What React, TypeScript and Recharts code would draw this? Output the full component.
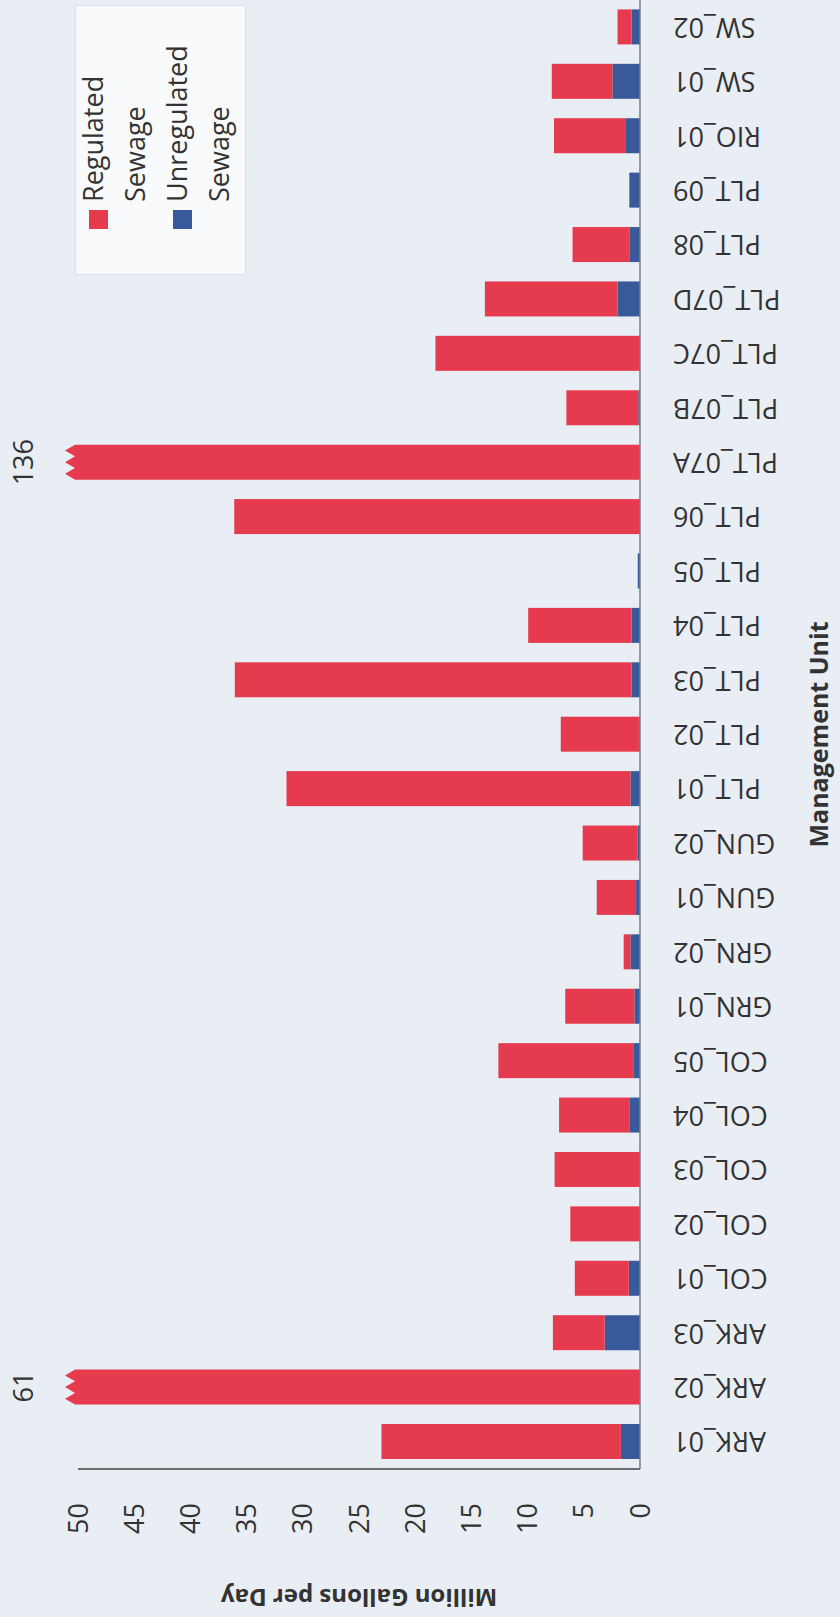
import React from 'react';
import { BarChart, Bar, XAxis, YAxis, Legend, LabelList, Label } from 'recharts';

// management units, left to right in the unrotated chart
const units = [
  'ARK_01', 'ARK_02', 'ARK_03', 'COL_01', 'COL_02', 'COL_03', 'COL_04', 'COL_05',
  'GRN_01', 'GRN_02', 'GUN_01', 'GUN_02', 'PLT_01', 'PLT_02', 'PLT_03', 'PLT_04',
  'PLT_05', 'PLT_06', 'PLT_07A', 'PLT_07B', 'PLT_07C', 'PLT_07D', 'PLT_08', 'PLT_09',
  'RIO_01', 'SW_01', 'SW_02',
];

// million gallons per day
const regulated = [
  21.3, 61, 4.6, 4.8, 6.2, 7.6, 6.3, 12.0,
  6.15, 0.6, 3.5, 4.9, 30.6, 6.95, 35.3, 9.2,
  0, 36.1, 136, 6.4, 18.2, 11.8, 5.05, 0,
  6.4, 5.4, 1.25,
];
const unregulated = [
  1.7, 0, 3.15, 1.0, 0, 0, 0.9, 0.6,
  0.5, 0.85, 0.35, 0.2, 0.85, 0.1, 0.75, 0.75,
  0.2, 0, 0, 0.15, 0, 2.0, 0.95, 0.95,
  1.25, 2.45, 0.75,
];

const yTicks = [0, 5, 10, 15, 20, 25, 30, 35, 40, 45, 50];
const AXIS_MAX = 50;

const legendNames: Record<string, string> = {
  regulated: 'Regulated Sewage',
  unregulated: 'Unregulated Sewage',
};
const legendOrder = ['regulated', 'unregulated'];

const RED = '#e63b4f';
const BLUE = '#38599a';
const TEXT = '#333333';
const FONT = '"Open Sans", sans-serif';

// chart is drawn upright then turned a quarter turn, like the scanned page
const W = 1617;
const H = 840;

// bars above the axis max get cut at the top and marked with a zigzag
const chartData = units.map((unit, i) => {
  const total = regulated[i] + unregulated[i];
  return {
    unit,
    unregulated: unregulated[i],
    regulated: Math.min(total, AXIS_MAX) - unregulated[i],
    actual: total,
  };
});

const RegulatedShape = (props: any) => {
  const { x, y, width, height, payload } = props;
  if (!height || height <= 0) return null;
  if (payload.actual <= AXIS_MAX) {
    return <rect x={x} y={y} width={width} height={height} fill={RED} />;
  }
  const notch = y - 3;
  const tip = y - 13;
  const pts = [
    [x, y + height],
    [x + width, y + height],
    [x + width, notch],
    [x + width * 0.83, tip],
    [x + width * 0.67, notch],
    [x + width * 0.5, tip],
    [x + width * 0.33, notch],
    [x + width * 0.17, tip],
    [x, notch],
  ];
  return <polygon points={pts.map((p) => p.join(',')).join(' ')} fill={RED} />;
};

const renderBrokenLabel = (props: any) => {
  const vb = props.viewBox || props;
  const { x, y, width } = vb;
  if (!(props.value > AXIS_MAX)) return null;
  return (
    <text
      x={x + width / 2}
      y={y - 54}
      textAnchor="middle"
      dy="0.35em"
      fontSize={27}
      fontFamily={FONT}
      fill={TEXT}
    >
      {props.value}
    </text>
  );
};

const CategoryTick = (props: any) => {
  const { x, y, payload } = props;
  return (
    <text
      x={x}
      y={y}
      transform={`rotate(-90, ${x}, ${y})`}
      textAnchor="end"
      dy="0.35em"
      fontSize={27}
      fontFamily={FONT}
      fill={TEXT}
    >
      {payload.value}
    </text>
  );
};

const renderYTitle = (props: any) => {
  const { viewBox } = props;
  const cx = 20;
  const cy = viewBox.y + viewBox.height / 2;
  return (
    <text
      x={cx}
      y={cy}
      transform={`rotate(-90, ${cx}, ${cy})`}
      textAnchor="middle"
      dy="0.35em"
      fontSize={24}
      fontWeight="bold"
      fontFamily={FONT}
      fill={TEXT}
    >
      Million Gallons per Day
    </text>
  );
};

const renderLegend = (props: any) => {
  const items = [...(props.payload || [])].sort(
    (a: any, b: any) => legendOrder.indexOf(a.dataKey) - legendOrder.indexOf(b.dataKey)
  );
  return (
    <div
      style={{
        width: 270,
        height: 171,
        boxSizing: 'border-box',
        background: '#f9fafc',
        border: '1px solid #dde1e8',
        fontFamily: FONT,
        fontSize: 27,
        lineHeight: '42px',
        color: TEXT,
        position: 'relative',
      }}
    >
      {items.map((item: any, i: number) => (
        <div key={item.dataKey} style={{ position: 'absolute', left: 0, top: -4 + i * 84, width: 268, height: 84 }}>
          <div style={{ position: 'absolute', left: 45, top: 17, width: 19, height: 19, background: item.color }} />
          <div style={{ position: 'absolute', left: 72, top: 0, width: 190 }}>
            {legendNames[item.dataKey]}
          </div>
        </div>
      ))}
    </div>
  );
};

export default function App() {
  return (
    <div
      style={{
        position: 'absolute',
        left: 0,
        top: 0,
        width: 840,
        height: 1617,
        overflow: 'hidden',
        background: '#e9edf4',
      }}
    >
      <div
        style={{
          position: 'absolute',
          left: 0,
          top: 0,
          width: W,
          height: H,
          transformOrigin: '0 0',
          transform: `translateY(${W}px) rotate(-90deg)`,
        }}
      >
        <BarChart
          width={W}
          height={H}
          data={chartData}
          margin={{ top: 78, right: 0, bottom: 0, left: 0 }}
          barSize={35}
        >
          <XAxis
            dataKey="unit"
            interval={0}
            height={200}
            tickLine={false}
            tickSize={0}
            tickMargin={33}
            tick={<CategoryTick />}
            axisLine={{ stroke: '#767c88', strokeWidth: 1.5 }}
          >
            <Label
              value="Management Unit"
              position="insideBottom"
              offset={12}
              style={{ fontSize: 25, fontWeight: 'bold', fontFamily: FONT, fill: TEXT }}
            />
          </XAxis>
          <YAxis
            type="number"
            domain={[0, AXIS_MAX]}
            ticks={yTicks}
            width={148}
            tickLine={false}
            tickSize={0}
            tickMargin={34}
            tick={{ fontSize: 27, fontFamily: FONT, fill: TEXT }}
            axisLine={{ stroke: '#6e6e6e', strokeWidth: 2 }}
          >
            <Label content={renderYTitle} />
          </YAxis>
          <Legend
            layout="vertical"
            align="center"
            verticalAlign="middle"
            content={renderLegend}
            wrapperStyle={{ left: 1342, top: 75, width: 270, height: 171 }}
          />
          <Bar dataKey="unregulated" stackId="s" fill={BLUE} isAnimationActive={false} />
          <Bar dataKey="regulated" stackId="s" fill={RED} shape={<RegulatedShape />} isAnimationActive={false}>
            <LabelList dataKey="actual" content={renderBrokenLabel} />
          </Bar>
        </BarChart>
      </div>
    </div>
  );
}
